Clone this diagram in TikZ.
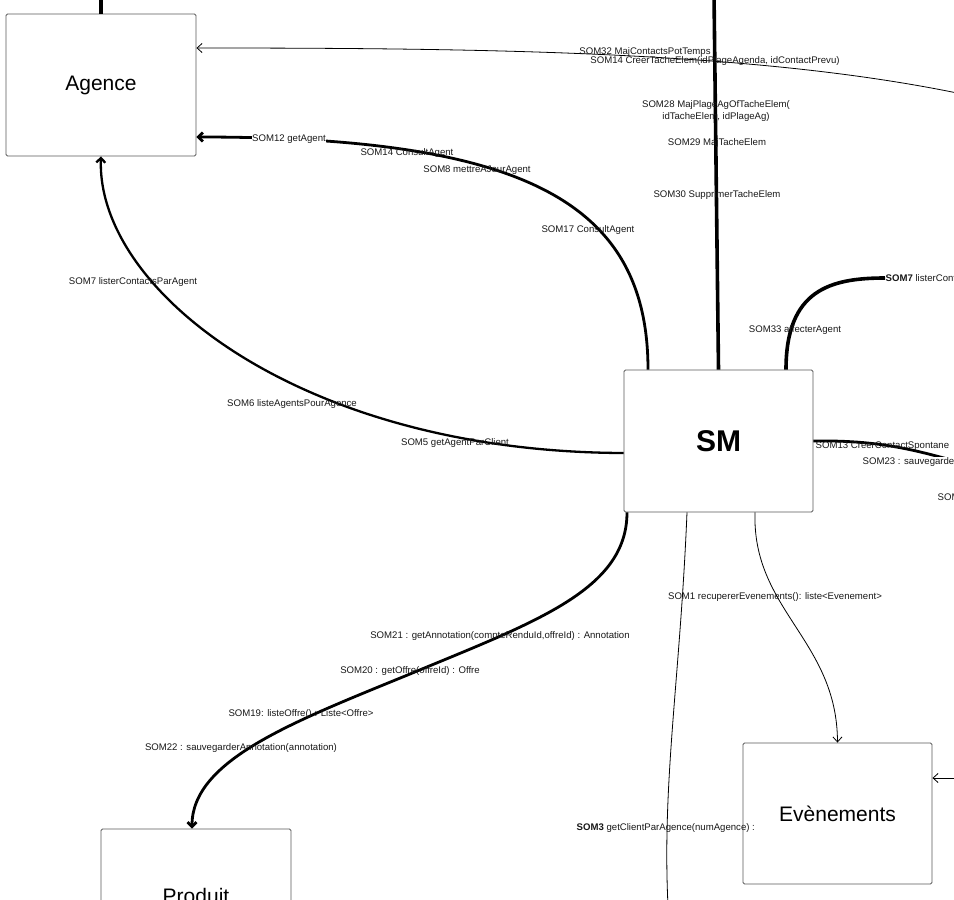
\documentclass[tikz,border=0pt]{standalone}
\usepackage{fontspec}
\setmainfont{Liberation Sans}
\usetikzlibrary{arrows.meta}
\tikzset{
  box/.style={draw=black!65, line width=0.9pt, rounded corners=1.5pt, fill=white,
    minimum width=190pt, minimum height=142pt, inner sep=0pt, font=\fontsize{21}{24}\selectfont},
  lbl/.style={inner sep=0.5pt, text=black!90, font=\fontsize{9.6}{11.6}\selectfont, align=center},
  wlbl/.style={lbl, fill=white},
  heavy/.style={line width=3.6pt},
  medium/.style={line width=2.8pt},
  thinln/.style={line width=0.8pt},
  bigtip/.style={-{Straight Barb[length=4.5pt,width=9pt]}},
  smalltip/.style={-{Straight Barb[length=5pt,width=9pt,line width=0.8pt]}}
}
\begin{document}
\begin{tikzpicture}[x=1pt,y=-1pt]
\useasboundingbox (0,0) rectangle (954,900);
\clip (0,0) rectangle (954,900);
\fill[white] (0,0) rectangle (954,900);

% boxes
\node[box] (agence) at (101,85) {Agence};
\node[box, minimum width=189pt, font=\fontsize{30}{34}\selectfont\bfseries] (sm) at (718.5,441) {SM};
\node[box, minimum height=134pt] (produit) at (196,896) {Produit};
\node[box, minimum width=189pt, minimum height=141pt, text depth=-3pt] (evn) at (837.5,813.5) {Evènements};

% free ends outside the frame
\coordinate (topA) at (101,-6);
\coordinate (topSM) at (714,-6);
\coordinate (rightA) at (962,94);
\coordinate (rightSM) at (962,463);
\coordinate (botSM) at (668,906);
\coordinate (rightE) at (962,778);
\coordinate (midP) at (410,674);

% right-side labels used as connector ends
\node[lbl, anchor=west] (l7r) at (885,278) {\textbf{SOM7} listerCont};

% connectors
\draw[heavy] (agence.north) -- (topA);
\draw[heavy] (sm.north) -- (topSM);
\draw[thinln, smalltip] (rightA) .. controls (760,52) and (500,48) .. ([yshift=37pt]agence.east);
\draw[medium, bigtip] ([xshift=-70.5pt]sm.north) .. controls (648,200) and (520,137) .. ([yshift=-52pt]agence.east);
\draw[line width=2.3pt, bigtip] ([yshift=-12pt]sm.west) .. controls (300,452) and (96,290) .. (agence.south);
\draw[heavy] ([xshift=67.5pt]sm.north) .. controls (786,290) and (830,278) .. (l7r.west);
\draw[medium] (sm.east) .. controls (880,440) and (915,450) .. (rightSM);
\draw[medium, bigtip] ([xshift=-91.5pt]sm.south) .. controls (627,590) and (535,622) .. (midP)
   .. controls (293,722) and (192,760) .. ([xshift=-4pt]produit.north);
\draw[thinln] ([xshift=-31.5pt]sm.south) .. controls (680,680) and (662,780) .. (botSM);
\draw[thinln, smalltip] ([xshift=36.5pt]sm.south) .. controls (752,610) and (837,640) .. (evn.north);
\draw[thinln, smalltip] (rightE) -- ([yshift=35.5pt]evn.east);

% labels
\node[lbl] (l32) at (645,52) {SOM32 MajContactsPotTemps};
\node[lbl] (l14b) at (715,61) {SOM14 CreerTacheElem(idPlageAgenda, idContactPrevu)};
\node[lbl] (l28) at (716,111) {SOM28 MajPlageAgOfTacheElem(\\idTacheElem, idPlageAg)};
\node[lbl] (l29) at (717,143) {SOM29 MajTacheElem};
\node[lbl] (l30) at (717,195) {SOM30 SupprimerTacheElem};
\node[wlbl] (l12) at (289,139) {SOM12 getAgent};
\node[lbl] (l14) at (407,153) {SOM14 ConsultAgent};
\node[lbl] (l8) at (477,170) {SOM8 mettreAJourAgent};
\node[lbl] (l17) at (588,230) {SOM17 ConsultAgent};
\node[lbl] (l7) at (133,282) {SOM7 listerContactsParAgent};
\node[lbl] (l6) at (292,404) {SOM6 listeAgentsPourAgence};
\node[lbl] (l5) at (455,443) {SOM5 getAgentParClient};
\node[lbl] (l33) at (795,330) {SOM33 affecterAgent};
\node[lbl, anchor=west] (l13) at (815,446) {SOM13 CreerContactSpontane};
\node[wlbl, anchor=west] (l23) at (862,462) {SOM23 : sauvegarde};
\node[lbl, anchor=west] (lx) at (937,497) {SOM};
\node[lbl] (l1) at (775,597) {SOM1 recupererEvenements(): liste<Evenement>};
\node[lbl] (l21) at (500,636) {SOM21 : getAnnotation(compteRenduId,offreId) : Annotation};
\node[lbl] (l20) at (410,671) {SOM20 : getOffre(offreId) : Offre};
\node[lbl] (l19) at (301,714) {SOM19: listeOffre() : Liste<Offre>};
\node[lbl] (l22) at (241,748) {SOM22 : sauvegarderAnnotation(annotation)};
\node[lbl, anchor=west] (l3) at (576,828) {\textbf{SOM3} getClientParAgence(numAgence) :};
\end{tikzpicture}
\end{document}
